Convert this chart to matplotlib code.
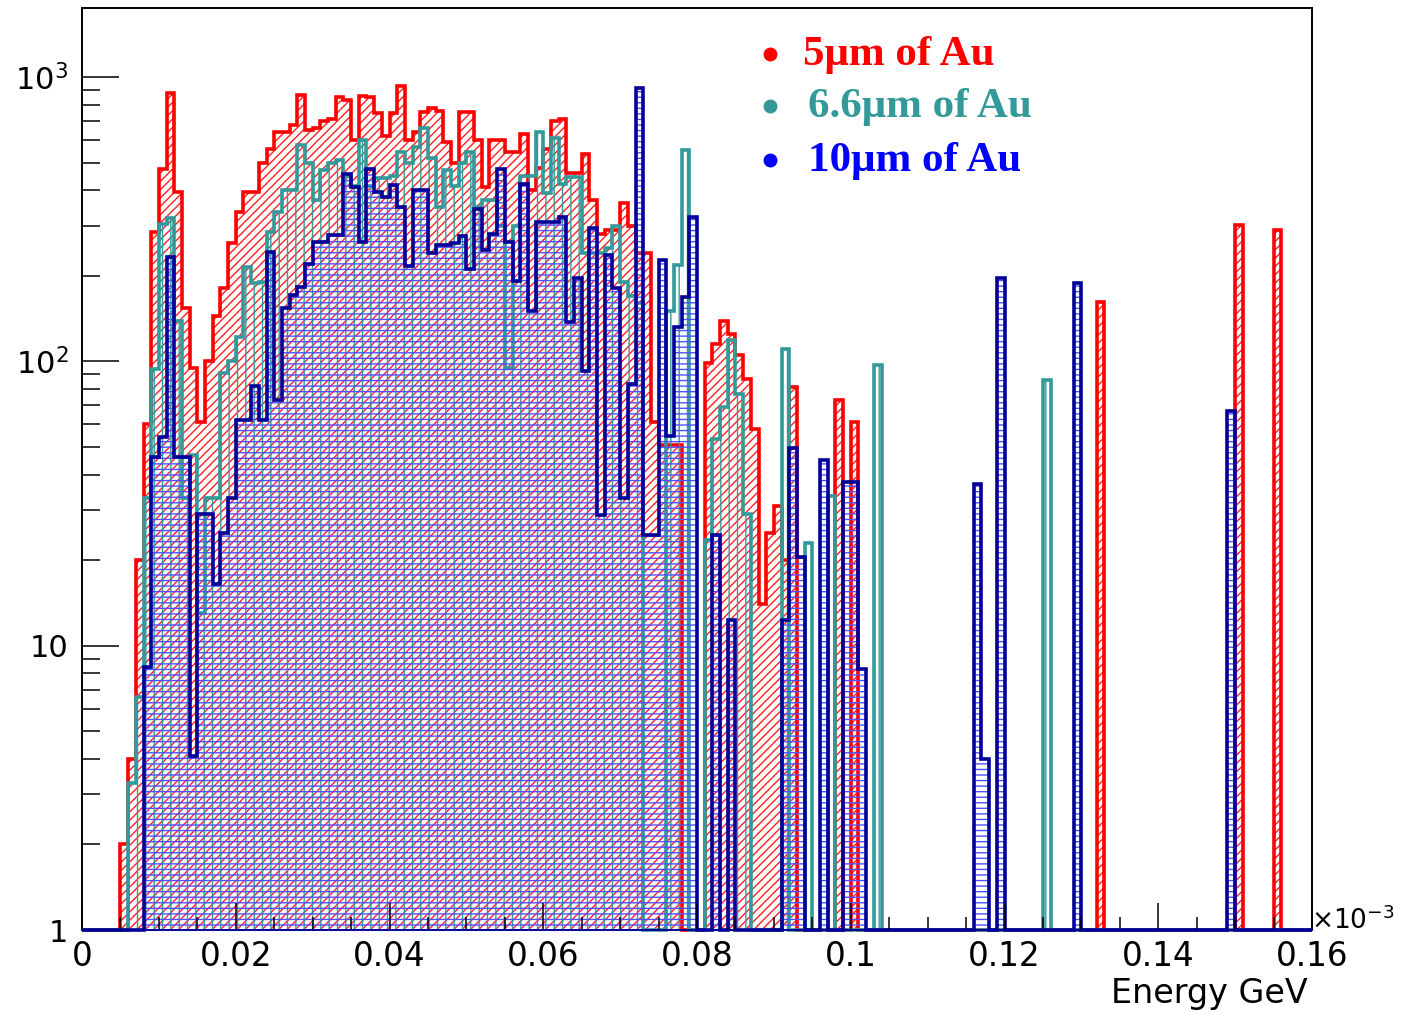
import numpy as np
import matplotlib
matplotlib.use('Agg')
import matplotlib.pyplot as plt
from matplotlib.ticker import FixedLocator, MultipleLocator, NullFormatter

plt.rcParams['font.family'] = ['DejaVu Sans']
plt.rcParams['mathtext.fontset'] = 'dejavusans'

# histogram binning (energy in units of 1e-3 GeV)
bin_width = 0.001
n_bins = 160

# counts per bin
red_counts = [
    0, 0, 0, 0, 0, 2, 4, 20, 60, 286, 474, 877, 395, 154, 95, 61,
    100, 144, 181, 260, 336, 395, 395, 497, 558, 643, 643, 678, 863, 651, 660, 700,
    710, 853, 830, 600, 860, 850, 750, 620, 750, 930, 600, 640, 755, 780, 760, 590,
    500, 755, 755, 600, 410, 600, 600, 547, 547, 630, 400, 480, 560, 700, 710, 460,
    460, 535, 370, 280, 290, 290, 360, 300, 240, 240, 61, 51, 51, 51, 0, 0,
    0, 99, 115, 139, 125, 105, 87, 58, 14, 25, 31, 20, 81, 0, 0, 0,
    0, 0, 73, 0, 61, 0, 0, 0, 0, 0, 0, 0, 0, 0, 0, 0,
    0, 0, 0, 0, 0, 0, 0, 0, 0, 0, 0, 0, 0, 0, 0, 0,
    0, 0, 0, 0, 162, 0, 0, 0, 0, 0, 0, 0, 0, 0, 0, 0,
    0, 0, 0, 0, 0, 0, 303, 0, 0, 0, 0, 291, 0, 0, 0, 0,
]
teal_counts = [
    0, 0, 0, 0, 0, 0, 3.3, 6.6, 33, 94, 305, 320, 139, 33, 47, 13,
    33, 33, 91, 100, 122, 215, 188, 190, 286, 336, 400, 400, 575, 497, 370, 470,
    497, 510, 450, 415, 600, 415, 440, 440, 450, 547, 500, 570, 660, 520, 350, 470,
    415, 500, 543, 350, 370, 370, 300, 95, 300, 450, 450, 643, 390, 610, 420, 445,
    445, 240, 240, 240, 250, 300, 190, 170, 160, 0, 0, 0, 150, 218, 554, 0,
    0, 23.5, 53.5, 69, 119, 77, 29, 0, 0, 0, 0, 111, 0, 0, 23, 0,
    0, 33.5, 0, 0, 0, 0, 0, 97, 0, 0, 0, 0, 0, 0, 0, 0,
    0, 0, 0, 0, 0, 0, 0, 0, 0, 0, 0, 0, 0, 86, 0, 0,
    0, 0, 0, 0, 0, 0, 0, 0, 0, 0, 0, 0, 0, 0, 0, 0,
    0, 0, 0, 0, 0, 0, 0, 0, 0, 0, 0, 0, 0, 0, 0, 0,
]
blue_counts = [
    0, 0, 0, 0, 0, 0, 0, 0, 8.4, 46, 54, 233, 46, 46, 4.1, 29,
    29, 16.5, 25, 33, 62, 62, 82, 62, 243, 73, 154, 171, 183, 220, 264, 264,
    278, 278, 457, 410, 264, 475, 395, 380, 417, 350, 217, 400, 400, 240, 257, 257,
    260, 275, 212, 344, 246, 280, 475, 264, 192, 422, 150, 310, 310, 310, 322, 138,
    197, 92.6, 294, 28.8, 236, 181, 33, 83, 915, 24.6, 24.6, 227, 54.5, 132, 168, 322,
    0, 0, 24.6, 0, 12.3, 0, 0, 0, 0, 0, 0, 12.3, 49.6, 20.5, 0, 0,
    45, 0, 0, 37.6, 37.6, 8.3, 0, 0, 0, 0, 0, 0, 0, 0, 0, 0,
    0, 0, 0, 0, 37, 4, 0, 196, 0, 0, 0, 0, 0, 0, 0, 0,
    0, 189, 0, 0, 0, 0, 0, 0, 0, 0, 0, 0, 0, 0, 0, 0,
    0, 0, 0, 0, 0, 67, 0, 0, 0, 0, 0, 0, 0, 0, 0, 0,
]

series_labels = ['5\u03bcm of Au', '6.6\u03bcm of Au', '10\u03bcm of Au']
x_ticks = [0, 0.02, 0.04, 0.06, 0.08, 0.1, 0.12, 0.14, 0.16]
x_tick_labels = ['0', '0.02', '0.04', '0.06', '0.08', '0.1', '0.12', '0.14', '0.16']
y_ticks = [1, 10, 100, 1000]
y_tick_labels = ['1', '10', '$10^{2}$', '$10^{3}$']

W, H = 1405, 1015
fig = plt.figure(figsize=(W / 100, H / 100), dpi=100)
ax = fig.add_axes([82 / W, 1 - 930 / H, 1230 / W, 922 / H])
ax.set_yscale('log')

edges = np.arange(n_bins + 1) * bin_width

# (counts, outline colour, hatch colour, hatch)
styles = [
    (red_counts, '#ff0000', '#ff2020', '////'),
    (teal_counts, '#339999', '#339999', '||'),
    (blue_counts, '#000099', '#5050ff', '---'),
]
for counts, line_col, hatch_col, hatch in styles:
    vals = np.clip(np.array(counts, dtype=float), 1, None)
    plt.rcParams['hatch.linewidth'] = 1.0
    ax.stairs(vals, edges, baseline=1, fill=True, facecolor='none',
              edgecolor=hatch_col, hatch=hatch, linewidth=0)
    ax.stairs(vals, edges, baseline=1, color=line_col, linewidth=2.6,
              clip_on=False)

ax.set_xlim(0, 0.16)
ax.set_ylim(1, 1750)

ax.xaxis.set_major_locator(FixedLocator(x_ticks))
ax.set_xticklabels(x_tick_labels)
ax.xaxis.set_minor_locator(MultipleLocator(0.005))
ax.yaxis.set_major_locator(FixedLocator(y_ticks))
ax.set_yticklabels(y_tick_labels)
ax.yaxis.set_minor_formatter(NullFormatter())

ax.tick_params(axis='x', which='major', direction='in', length=19.5, width=1.1,
               labelsize=23.5, pad=7, top=False)
ax.tick_params(axis='x', which='minor', direction='in', length=9.5, width=1.1,
               top=False)
ax.tick_params(axis='y', which='major', direction='in', length=26.5, width=1.1,
               labelsize=22, pad=10, right=False)
ax.tick_params(axis='y', which='minor', direction='in', length=13, width=1.1,
               right=False)
for sp in ax.spines.values():
    sp.set_linewidth(1.4)
ax.spines['bottom'].set_color('#000099')

fig.text(1308 / W, 1 - 1003 / H, 'Energy GeV', ha='right', va='baseline',
         fontsize=24)
fig.text(1311 / W, 1 - 929 / H, r'$\times$10$^{-3}$', ha='left', va='baseline',
         fontsize=19)

# legend drawn by hand: dot + bold serif label
legend_colors = ['#ff0000', '#339999', '#0000ff']
marker_y = [54, 106, 160]
text_x = [803, 808, 808]
for lab, col, my, tx in zip(series_labels, legend_colors, marker_y, text_x):
    fig.lines.append(plt.Line2D([770 / W], [1 - my / H], marker='o',
                                markersize=9, color=col,
                                transform=fig.transFigure))
    fig.text(tx / W, 1 - (my + 11) / H, lab, color=col, ha='left',
             va='baseline', fontsize=31, fontweight='bold',
             family='Liberation Serif')

fig.savefig('out.png', dpi=100)
